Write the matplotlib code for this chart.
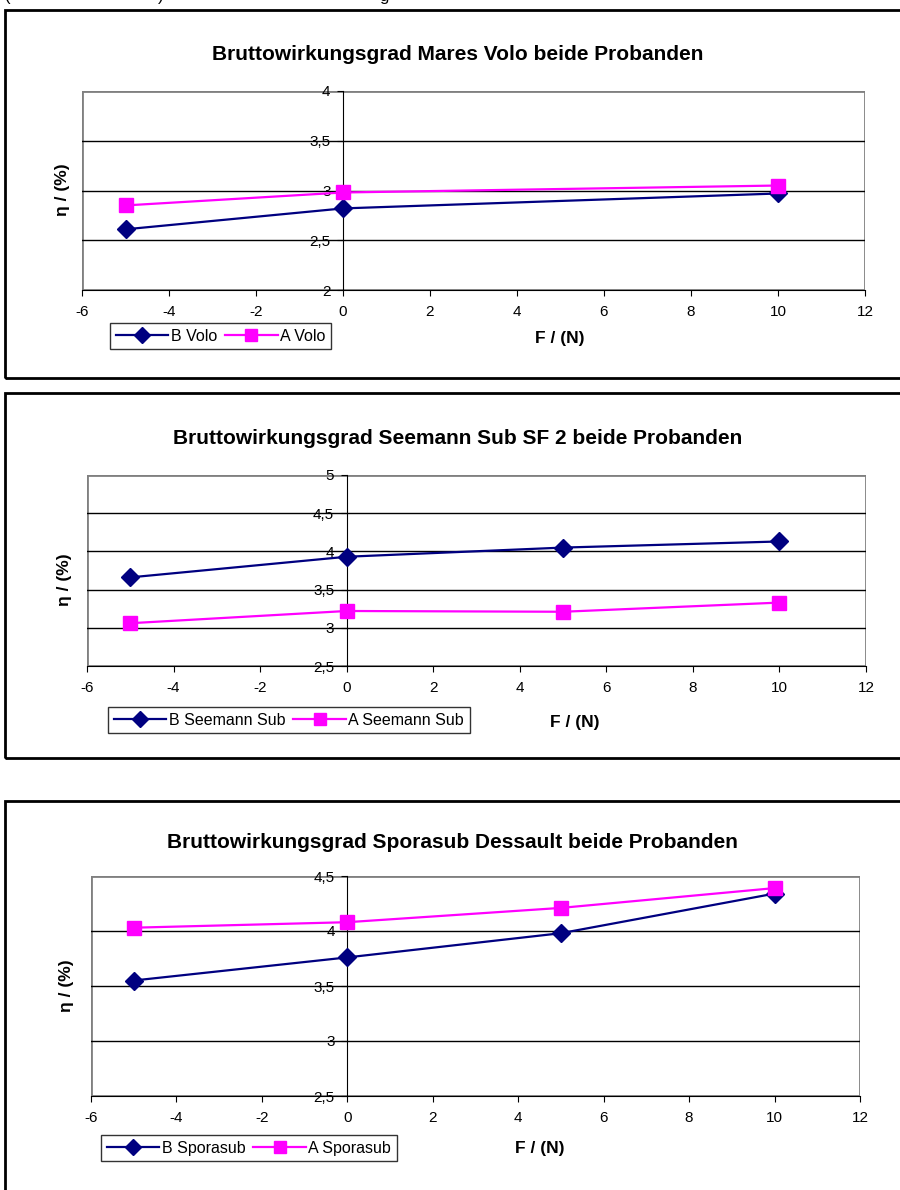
import matplotlib
matplotlib.use("Agg")
import matplotlib.pyplot as plt
from matplotlib.patches import Rectangle
from matplotlib.ticker import FuncFormatter, MultipleLocator

plt.rcParams['font.family'] = ['Liberation Sans', 'DejaVu Sans']

# data
titles = ["Bruttowirkungsgrad Mares Volo beide Probanden",
          "Bruttowirkungsgrad Seemann Sub SF 2 beide Probanden",
          "Bruttowirkungsgrad Sporasub Dessault beide Probanden"]
x_volo = [-5, 0, 10]
b_volo = [2.61, 2.82, 2.97]
a_volo = [2.85, 2.98, 3.05]
x_seemann = [-5, 0, 5, 10]
b_seemann = [3.66, 3.93, 4.05, 4.13]
a_seemann = [3.06, 3.22, 3.21, 3.33]
x_spora = [-5, 0, 5, 10]
b_spora = [3.55, 3.76, 3.98, 4.34]
a_spora = [4.03, 4.08, 4.21, 4.39]
labels_volo = ["B Volo", "A Volo"]
labels_seemann = ["B Seemann Sub", "A Seemann Sub"]
labels_spora = ["B Sporasub", "A Sporasub"]

W, H = 900, 1190
fig = plt.figure(figsize=(W / 100, H / 100), dpi=100)

NAVY = '#000080'
MAGENTA = '#FF00FF'


def rect(x0, y0, x1, y1):
    return [x0 / W, 1 - y1 / H, (x1 - x0) / W, (y1 - y0) / H]


def comma(v, pos):
    return ('%g' % v).replace('.', ',')


def panel(box, axbox, ylim, x, b, a, labels, title, title_xy, ylab_xy, xlab_xy, leg_xy):
    # outer frame of the chart
    fig.add_artist(Rectangle((box[0] / W, 1 - box[3] / H), (box[2] - box[0]) / W,
                             (box[3] - box[1]) / H, transform=fig.transFigure,
                             fill=False, edgecolor='black', linewidth=2))
    ax = fig.add_axes(rect(*axbox))
    ax.set_xlim(-6, 12)
    ax.set_ylim(*ylim)
    ax.xaxis.set_major_locator(MultipleLocator(2))
    ax.yaxis.set_major_locator(MultipleLocator(0.5))
    ax.xaxis.set_major_formatter(FuncFormatter(comma))
    ax.yaxis.set_major_formatter(FuncFormatter(comma))
    for y in ax.get_yticks():
        if ylim[0] < y < ylim[1]:
            ax.axhline(y, color='black', linewidth=1, zorder=1)
    for s in ['top', 'right']:
        ax.spines[s].set_visible(False)
    ax.spines['left'].set_position(('data', 0))
    ax.spines['left'].set_color('black')
    ax.spines['left'].set_zorder(1)
    ax.spines['bottom'].set_color('black')
    ax.add_patch(Rectangle((0, 0), 1, 1, transform=ax.transAxes, fill=False,
                           edgecolor='#808080', linewidth=2, zorder=0.5))
    ax.tick_params(axis='x', direction='out', length=4, pad=7, labelsize=11)
    ax.tick_params(axis='y', direction='out', length=4, pad=5, labelsize=11)
    ax.plot(x, b, color=NAVY, linewidth=1.6, marker='D', markersize=9, zorder=3)
    ax.plot(x, a, color=MAGENTA, linewidth=1.6, marker='s', markersize=10, zorder=3)
    fig.text(title_xy[0] / W, 1 - title_xy[1] / H, title, ha='center', va='center',
             fontsize=15, fontweight='bold')
    fig.text(ylab_xy[0] / W, 1 - ylab_xy[1] / H, "η / (%)", ha='center', va='center',
             rotation=90, fontsize=12.5, fontweight='bold')
    fig.text(xlab_xy[0] / W, 1 - xlab_xy[1] / H, "F / (N)", ha='center', va='center',
             fontsize=12.5, fontweight='bold')
    h1, = ax.plot([], [], color=NAVY, linewidth=1.6, marker='D', markersize=8)
    h2, = ax.plot([], [], color=MAGENTA, linewidth=1.6, marker='s', markersize=9)
    leg = ax.legend([h1, h2], labels, loc='upper left',
                    bbox_to_anchor=(leg_xy[0] / W, 1 - leg_xy[1] / H),
                    bbox_transform=fig.transFigure, ncol=2, fontsize=11.5,
                    frameon=True, fancybox=False, edgecolor='black',
                    handlelength=3.3, handletextpad=0.15, columnspacing=0.5,
                    borderpad=0.35, borderaxespad=0)
    leg.get_frame().set_linewidth(1)
    return ax


panel((5, 10, 910, 378), (82, 91, 865, 290), (2, 4), x_volo, b_volo, a_volo,
      labels_volo, titles[0], (458, 55), (62, 190), (560, 339), (110, 323))
panel((5, 393, 910, 758), (87, 475, 866, 666), (2.5, 5), x_seemann, b_seemann, a_seemann,
      labels_seemann, titles[1], (458, 438), (64, 580), (575, 722), (108, 707))
panel((5, 801, 910, 1200), (91, 876, 860, 1096), (2.5, 4.5), x_spora, b_spora, a_spora,
      labels_spora, titles[2], (452, 842), (67, 986), (540, 1148), (101, 1135))

# caption line cut at the top edge of the page
for cx, ch in [(5, "("), (158, ")"), (379, "g")]:
    fig.text(cx / W, 1 - 1.0 / H, ch, ha='left', va='baseline', fontsize=12)

fig.savefig("out.png", dpi=100)
